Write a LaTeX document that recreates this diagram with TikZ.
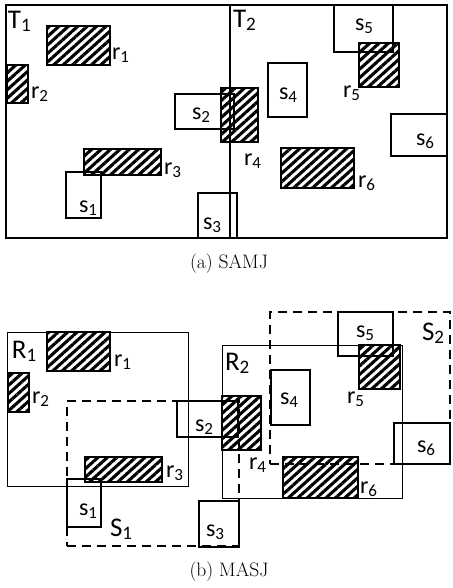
\documentclass[tikz,border=0pt]{standalone}
\usepackage{fontspec}
\newfontfamily\lblfont{Carlito}
\usetikzlibrary{patterns.meta}
\newcommand\sml[2]{{\lblfont\fontsize{24}{24}\selectfont #1\raisebox{-3pt}{\fontsize{17}{17}\selectfont #2}}}
\newcommand\bgl[2]{{\lblfont\fontsize{27}{27}\selectfont #1\raisebox{-3pt}{\fontsize{19}{19}\selectfont #2}}}
\newcommand\mkrect[6]{\node[#1, anchor=north west, minimum width={(#5-#3)*1pt}, minimum height={(#6-#4)*1pt}] (#2) at (#3,#4) {};}
\tikzset{
  every node/.style={inner sep=0pt, outer sep=0pt},
  hatchbox/.style={draw, line width=1.3pt, rectangle, pattern={Lines[angle=42,distance=6.3pt,line width=3.1pt]}},
  plainbox/.style={draw, line width=1.4pt, rectangle},
  framebox/.style={draw, line width=1.2pt, rectangle},
  thinframe/.style={draw, line width=0.9pt, rectangle},
  dashbox/.style={draw, line width=2.4pt, dash pattern=on 9pt off 6pt, rectangle},
  lab/.style={anchor=base west},
  captext/.style={font=\fontsize{19.5}{20}\selectfont}
}
\begin{document}
\begin{tikzpicture}[x=1pt,y=-1pt]
\useasboundingbox (0,0) rectangle (452,588);
% ---------- panel (a) ----------
\mkrect{hatchbox}{r1a}{47}{26}{110}{65}
\mkrect{hatchbox}{r2a}{7}{65}{28}{103}
\mkrect{hatchbox}{r4a}{221}{88}{258}{142}
\mkrect{hatchbox}{r3a}{84}{149}{161}{175}
\mkrect{hatchbox}{r5a}{359}{43}{399}{87}
\mkrect{hatchbox}{r6a}{281}{148}{354}{188}
\mkrect{plainbox}{s2a}{175}{94}{234}{129}
\mkrect{plainbox}{s1a}{66}{172}{101}{218}
\mkrect{plainbox}{s3a}{198}{193}{237}{238}
\mkrect{plainbox}{s5a}{334}{5}{393}{52}
\mkrect{plainbox}{s4a}{268}{63}{307}{117}
\mkrect{plainbox}{s6a}{391}{114}{447}{156}
\mkrect{framebox}{framea}{6}{5}{447}{238}
\coordinate (divt) at (230,5);
\coordinate (divb) at (230,238);
\draw[line width=1.2pt] (divt) -- (divb);
\node[lab] (T1) at (8,29) {\bgl{T}{1}};
\node[lab] (T2) at (233,28) {\bgl{T}{2}};
\node[lab] (lr1a) at (112,60) {\sml{r}{1}};
\node[lab] (lr2a) at (31,99) {\sml{r}{2}};
\node[lab] (ls2a) at (192,120) {\sml{s}{2}};
\node[lab] (lr4a) at (244,165) {\sml{r}{4}};
\node[lab] (lr3a) at (164,175) {\sml{r}{3}};
\node[lab] (ls1a) at (79,212) {\sml{s}{1}};
\node[lab] (ls3a) at (203,229) {\sml{s}{3}};
\node[lab] (ls5a) at (355,31) {\sml{s}{5}};
\node[lab] (lr5a) at (343,98) {\sml{r}{5}};
\node[lab] (ls4a) at (279,100) {\sml{s}{4}};
\node[lab] (ls6a) at (416,146) {\sml{s}{6}};
\node[lab] (lr6a) at (358,187) {\sml{r}{6}};
\node[captext] (capa) at (229,264) {(a) SAMJ};
% ---------- panel (b) ----------
\mkrect{hatchbox}{r1b}{47}{332}{110}{371}
\mkrect{hatchbox}{r2b}{8}{373}{29}{412}
\mkrect{hatchbox}{r4b}{222}{396}{261}{450}
\mkrect{hatchbox}{r3b}{85}{457}{162}{482}
\mkrect{hatchbox}{r5b}{359}{345}{400}{389}
\mkrect{hatchbox}{r6b}{283}{457}{358}{498}
\mkrect{thinframe}{R1}{7}{332}{188}{486}
\mkrect{thinframe}{R2}{222}{345}{402}{498}
\mkrect{plainbox}{s2b}{177}{401}{238}{437}
\mkrect{plainbox}{s1b}{67}{479}{101}{527}
\mkrect{plainbox}{s3b}{199}{501}{239}{547}
\mkrect{plainbox}{s5b}{338}{312}{393}{356}
\mkrect{plainbox}{s4b}{271}{370}{310}{425}
\mkrect{plainbox}{s6b}{394}{423}{450}{464}
\mkrect{dashbox}{S1}{67}{401}{239}{546}
\mkrect{dashbox}{S2}{270}{312}{450}{464}
\node[lab] (lR1) at (12,358) {\bgl{R}{1}};
\node[lab] (lR2) at (225,370) {\bgl{R}{2}};
\node[lab] (lS1) at (110,536) {\bgl{S}{1}};
\node[lab] (lS2) at (422,340) {\bgl{S}{2}};
\node[lab] (lr1b) at (114,366) {\sml{r}{1}};
\node[lab] (lr2b) at (32,403) {\sml{r}{2}};
\node[lab] (ls2b) at (195,431) {\sml{s}{2}};
\node[lab] (lr3b) at (166,477) {\sml{r}{3}};
\node[lab] (ls1b) at (79,515) {\sml{s}{1}};
\node[lab] (ls3b) at (206,536) {\sml{s}{3}};
\node[lab] (ls5b) at (356,337) {\sml{s}{5}};
\node[lab] (lr5b) at (347,403) {\sml{r}{5}};
\node[lab] (ls4b) at (280,404) {\sml{s}{4}};
\node[lab] (lr4b) at (249,469) {\sml{r}{4}};
\node[lab] (ls6b) at (417,452) {\sml{s}{6}};
\node[lab] (lr6b) at (360,493) {\sml{r}{6}};
\node[captext] (capb) at (229,572) {(b) MASJ};
\end{tikzpicture}
\end{document}
